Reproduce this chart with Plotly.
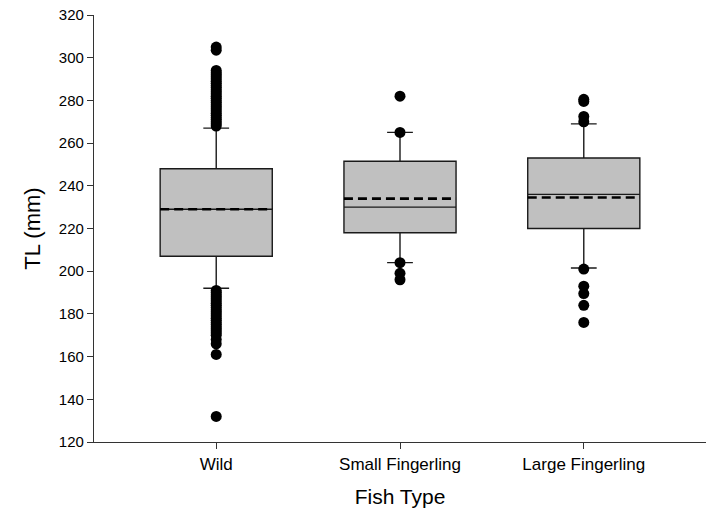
import plotly.graph_objects as go

categories = ["Wild", "Small Fingerling", "Large Fingerling"]
q1 = [207, 218, 220]
median = [229, 230, 236]
q3 = [248, 251.5, 253]
lower_whisker = [192, 204, 201.5]
upper_whisker = [267, 265, 269]
means = [229, 234, 234.5]

outliers_wild = [305, 303.5, 294, 293, 292, 291, 290, 289, 288, 287, 286, 285, 284, 283, 282, 281,
                 280, 279, 278, 277, 276, 275, 274, 273, 272, 271, 270, 269, 268,
                 191, 190, 189, 188, 187, 186, 185, 184, 183, 182, 181, 180, 179, 178, 177,
                 176, 175, 174, 173, 172, 171, 170, 168, 166, 161, 132]
outliers_small = [282, 265, 204, 199, 196]
outliers_large = [280.5, 279.5, 272.5, 270, 201, 193, 189.5, 184, 176]
outliers = [outliers_wild, outliers_small, outliers_large]

box_width = 0.61
xpos = list(range(len(categories)))
FONT = "Liberation Sans, Arial, sans-serif"

fig = go.Figure()
fig.add_trace(go.Box(
    x=xpos, q1=q1, median=median, q3=q3,
    lowerfence=lower_whisker, upperfence=upper_whisker,
    width=box_width, whiskerwidth=0.23,
    fillcolor="#c0c0c0", line=dict(color="#1a1a1a", width=1.4),
    boxpoints=False, showlegend=False, hoverinfo="skip",
))

for i, pts in enumerate(outliers):
    fig.add_trace(go.Scatter(
        x=[xpos[i]] * len(pts), y=pts, mode="markers",
        marker=dict(color="black", size=11), showlegend=False, hoverinfo="skip",
    ))

for i, m in enumerate(means):
    fig.add_trace(go.Scatter(
        x=[xpos[i] - box_width / 2, xpos[i] + box_width / 2], y=[m, m], mode="lines",
        line=dict(color="black", width=2.6, dash="9px,5px"), showlegend=False, hoverinfo="skip",
    ))

fig.update_layout(
    width=711, height=514,
    margin=dict(l=94, r=5, t=15, b=72),
    paper_bgcolor="white", plot_bgcolor="white",
    font=dict(family=FONT, color="black"),
)
fig.update_xaxes(
    range=[-0.665, 2.665], tickvals=xpos, ticktext=categories,
    showline=True, linecolor="#333", linewidth=1.3,
    ticks="outside", ticklen=6, tickcolor="#333", tickwidth=1.3,
    showgrid=False, zeroline=False, tickfont=dict(size=17, family=FONT),
    title=dict(text="Fish Type", font=dict(size=21, family=FONT), standoff=16),
)
fig.update_yaxes(
    range=[120, 320], tick0=120, dtick=20,
    showline=True, linecolor="#333", linewidth=1.3,
    ticks="outside", ticklen=6, tickcolor="#333", tickwidth=1.3,
    showgrid=False, zeroline=False, tickfont=dict(size=15, family=FONT),
    title=dict(text="TL (mm)", font=dict(size=22, family=FONT), standoff=12),
)

fig.write_html("out.html")
